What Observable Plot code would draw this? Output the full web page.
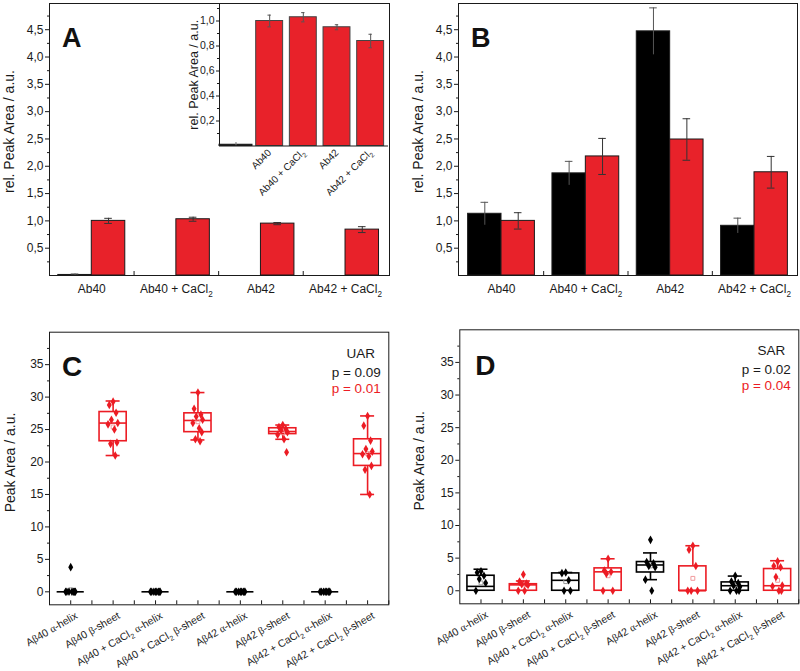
<!DOCTYPE html>
<html><head><meta charset="utf-8">
<script src="https://cdn.jsdelivr.net/npm/d3@7"></script>
<script src="https://cdn.jsdelivr.net/npm/@observablehq/plot@0.6"></script>
<style>
body{margin:0;background:#fff;}
#fig{position:relative;width:800px;height:671px;overflow:hidden;}
.panel{position:absolute;}
.panel svg{overflow:visible;display:block;}
</style></head><body><div id="fig"></div>
<script>
// ---------- data ----------
const groups = ["Ab40", "Ab40 + CaCl\u2082", "Ab42", "Ab42 + CaCl\u2082"];

// Panel A (main + inset)
const A_black = [0.01, 0, 0, 0];
const A_blackErr = [0.018, 0, 0, 0];
const A_red = [1.00, 1.03, 0.95, 0.84];
const A_redErr = [0.047, 0.037, 0.02, 0.054];

// Panel B
const B_black = [1.13, 1.87, 4.47, 0.91];
const B_blackErr = [0.21, 0.22, 0.43, 0.14];
const B_red = [1.00, 2.18, 2.49, 1.89];
const B_redErr = [0.15, 0.33, 0.38, 0.29];

// Panels C and D
const cats = ["A\u03b240 \u03b1-helix", "A\u03b240 \u03b2-sheet", "A\u03b240 + CaCl\u2082 \u03b1-helix", "A\u03b240 + CaCl\u2082 \u03b2-sheet",
              "A\u03b242 \u03b1-helix", "A\u03b242 \u03b2-sheet", "A\u03b242 + CaCl\u2082 \u03b1-helix", "A\u03b242 + CaCl\u2082 \u03b2-sheet"];
// [whisker low, Q1, median, Q3, whisker high]
const C_box = [
  [0, 0, 0, 0, 0],
  [21.0, 23.2, 26.0, 27.7, 29.4],
  [0, 0, 0, 0, 0],
  [23.4, 24.6, 26.4, 27.5, 30.7],
  [0, 0, 0, 0, 0],
  [23.5, 24.3, 24.7, 25.2, 25.7],
  [0, 0, 0, 0, 0],
  [15.0, 19.4, 21.3, 23.5, 27.1]
];
const C_points = [
  [3.8, 0, 0, 0, 0, 0, 0, 0],
  [29.3, 28.8, 27.6, 26.5, 26.0, 25.8, 25.0, 23.0, 22.8, 21.0],
  [0, 0, 0, 0, 0, 0, 0, 0],
  [30.7, 28.2, 27.3, 27.0, 26.5, 26.0, 25.2, 24.6, 23.5, 23.2],
  [0, 0, 0, 0, 0, 0, 0, 0],
  [25.7, 25.4, 25.1, 24.9, 24.6, 24.2, 23.5, 21.5],
  [0, 0, 0, 0, 0, 0, 0, 0],
  [27.1, 25.6, 23.3, 22.0, 21.6, 21.2, 20.9, 19.4, 18.8, 15.0]
];
const C_mean = [0.3, 25.4, 0, 26.2, 0, 24.5, 0, 21.3];

const D_box = [
  [0, 0, 0.67, 2.3, 3.3],
  [0, 0, 0.9, 1.0, 1.5],
  [0, 0, 1.6, 2.66, 2.8],
  [0, 0, 2.9, 3.43, 4.9],
  [1.7, 2.8, 3.95, 4.4, 5.8],
  [0, 0, 0, 3.74, 6.9],
  [0, 0, 0.77, 1.28, 2.25],
  [0, 0, 0.77, 3.33, 4.6]
];
const D_points = [
  [3.0, 2.8, 2.3, 1.8, 1.2, 0],
  [2.5, 1.4, 1.1, 1.0, 0.9, 0, 0],
  [2.8, 2.7, 1.6, 0, 0],
  [4.9, 3.1, 2.9, 2.6, 0, 0],
  [7.8, 4.4, 4.2, 3.8, 3.6, 1.7, 0],
  [6.9, 6.3, 3.8, 0, 0, 0],
  [2.3, 1.4, 1.2, 0.8, 0.6, 0, 0, 0],
  [4.5, 3.8, 3.6, 2.1, 0.8, 0.7, 0, 0]
];
const D_mean = [1.2, 0.9, 1.4, 2.3, 3.8, 1.9, 0.8, 1.6];

// ---------- styles ----------
const RED = "#ec1c24";
const BARRED = "#e8222a";
const INK = "#1a1a1a";
const FONT = '"Liberation Sans", Arial, Helvetica, sans-serif';
const SERIF = '"Liberation Serif", "Times New Roman", serif';
const fig = document.getElementById("fig");

// Render Greek letters in a serif face and "₂" as a real subscript
function richText(svg) {
  svg.querySelectorAll("text").forEach(t => {
    if (t.children.length) return;
    const s = t.textContent;
    if (!/[\u03b1\u03b2\u2082]/.test(s)) return;
    const fs = parseFloat(getComputedStyle(t).fontSize) || 12;
    t.textContent = "";
    const NS = "http://www.w3.org/2000/svg";
    let buf = "", lowered = false;
    const flush = () => {
      if (!buf) return;
      const sp = document.createElementNS(NS, "tspan");
      sp.textContent = buf;
      if (lowered) { sp.setAttribute("dy", (-0.3 * fs).toFixed(2)); lowered = false; }
      t.appendChild(sp);
      buf = "";
    };
    for (const ch of s) {
      if (ch === "\u03b1" || ch === "\u03b2") {
        flush();
        const sp = document.createElementNS(NS, "tspan");
        sp.textContent = ch;
        sp.setAttribute("font-family", SERIF);
        if (lowered) { sp.setAttribute("dy", (-0.3 * fs).toFixed(2)); lowered = false; }
        t.appendChild(sp);
      } else if (ch === "\u2082") {
        flush();
        const sp = document.createElementNS(NS, "tspan");
        sp.textContent = "2";
        sp.setAttribute("font-size", (0.68 * fs).toFixed(2));
        sp.setAttribute("dy", (0.3 * fs).toFixed(2));
        t.appendChild(sp);
        lowered = true;
      } else buf += ch;
    }
    flush();
  });
}
function place(el, left, top) {
  const d = document.createElement("div");
  d.className = "panel";
  d.style.left = left + "px";
  d.style.top = top + "px";
  d.appendChild(el);
  fig.appendChild(d);
  richText(el);
}
const comma = d => d.toFixed(1).replace(".", ",");

// ---------- bar panels A, B ----------
function barPanel({black, blackErr, red, redErr, letter, marginLeft, marginRight, xDomain}) {
  const H = 310, mt = 3, mb = 35, yMax = 4.98;
  const ppu = (H - mt - mb) / yMax;
  const hw = 0.396;
  const rows = groups.map((g, i) => ({i, black: black[i], be: blackErr[i], red: red[i], re: redErr[i]}));
  const blackRows = rows.filter(d => d.black > 0);
  const cap = 0.045;
  return Plot.plot({
    width: 400, height: H, marginLeft, marginRight, marginTop: mt, marginBottom: mb,
    style: {fontFamily: FONT, fontSize: "12px", color: INK, background: "transparent"},
    x: {domain: xDomain},
    y: {domain: [0, yMax]},
    marks: [
      Plot.rect(blackRows, {x1: d => d.i - hw, x2: d => d.i, y1: 0, y2: "black", fill: "#000", stroke: INK, strokeWidth: 1}),
      Plot.rect(rows, {x1: d => d.i, x2: d => d.i + hw, y1: 0, y2: "red", fill: BARRED, stroke: INK, strokeWidth: 1}),
      Plot.ruleX(blackRows, {x: d => d.i - hw / 2, y1: d => d.black - d.be, y2: d => d.black + d.be, stroke: "#555", strokeWidth: 1}),
      Plot.ruleY(blackRows, {y: d => d.black + d.be, x1: d => d.i - hw / 2 - cap, x2: d => d.i - hw / 2 + cap, stroke: "#555"}),
      Plot.ruleX(rows, {x: d => d.i + hw / 2, y1: d => d.red - d.re, y2: d => d.red + d.re, stroke: "#333", strokeWidth: 1}),
      Plot.ruleY(rows, {y: d => d.red + d.re, x1: d => d.i + hw / 2 - cap, x2: d => d.i + hw / 2 + cap, stroke: "#333"}),
      Plot.ruleY(rows, {y: d => d.red - d.re, x1: d => d.i + hw / 2 - cap, x2: d => d.i + hw / 2 + cap, stroke: "#333"}),
      Plot.frame({stroke: INK, strokeWidth: 1}),
      Plot.axisY({ticks: d3.range(0.5, 4.51, 0.5), tickFormat: comma, tickSize: 4, tickPadding: 2, label: null, fontSize: 12}),
      Plot.axisY({ticks: d3.range(0.25, 4.9, 0.5), tickSize: 2, tickFormat: () => "", label: null}),
      Plot.axisX({ticks: [0, 1, 2, 3], tickFormat: i => groups[i], tickSize: 0, tickPadding: 9, label: null, fontSize: 12}),
      Plot.ruleX([0.5, 1.5, 2.5], {y1: 0, y2: 4 / ppu, stroke: INK}),
      Plot.text([letter], {frameAnchor: "top-left", dx: 12.5, dy: 24.5, textAnchor: "start", fontSize: 27, fontWeight: "bold", fill: "#111"}),
      Plot.text(["rel. Peak Area / a.u."], {frameAnchor: "left", dx: -40, dy: -8, rotate: -90, textAnchor: "middle", fontSize: 14, fill: INK})
    ]
  });
}

place(barPanel({black: A_black, blackErr: A_blackErr, red: A_red, redErr: A_redErr, letter: "A",
  marginLeft: 49, marginRight: 11, xDomain: [-0.5, 3.52]}), 0, 0);

// inset of A
{
  const rows = A_red.map((v, i) => ({i: i + 1, v, e: A_redErr[i]}));
  const blk = [{i: 0, v: A_black[0], e: A_blackErr[0]}];
  const inset = Plot.plot({
    width: 240, height: 210, marginLeft: 59, marginRight: 12, marginTop: 3, marginBottom: 64.5,
    style: {fontFamily: FONT, fontSize: "10px", color: INK, background: "transparent"},
    x: {domain: [-0.49, 4.53]},
    y: {domain: [0, 1.14]},
    marks: [
      Plot.rect(blk, {x1: d => d.i - 0.49, x2: d => d.i + 0.49, y1: 0, y2: "v", fill: "#000", stroke: INK}),
      Plot.rect(rows, {x1: d => d.i - 0.4, x2: d => d.i + 0.4, y1: 0, y2: "v", fill: BARRED, stroke: "#444"}),
      Plot.ruleX(blk, {x: "i", y1: 0, y2: d => d.v + d.e, stroke: "#777"}),
      Plot.ruleX(rows, {x: "i", y1: d => d.v - d.e, y2: d => d.v + d.e, stroke: "#555"}),
      Plot.ruleY(rows, {y: d => d.v + d.e, x1: d => d.i - 0.05, x2: d => d.i + 0.05, stroke: "#555"}),
      Plot.ruleY(rows, {y: d => d.v - d.e, x1: d => d.i - 0.05, x2: d => d.i + 0.05, stroke: "#555"}),
      Plot.ruleX([-0.49], {stroke: INK}),
      Plot.ruleY([0], {stroke: INK}),
      Plot.axisY({ticks: d3.range(0.2, 1.01, 0.2), tickFormat: comma, tickSize: 3, tickPadding: 2, label: null, fontSize: 10.5}),
      Plot.axisY({ticks: d3.range(0.1, 1.12, 0.2), tickSize: 2, tickFormat: () => "", label: null}),
      Plot.axisX({ticks: [1, 2, 3, 4], tickFormat: i => groups[i - 1], tickRotate: -45, tickSize: 0, tickPadding: 5, label: null, fontSize: 10}),
      Plot.text(["rel. Peak Area / a.u."], {frameAnchor: "left", dx: -26, rotate: -90, textAnchor: "middle", fontSize: 12.5, fill: INK})
    ]
  });
  place(inset, 160, 0);
}

place(barPanel({black: B_black, blackErr: B_blackErr, red: B_red, redErr: B_redErr, letter: "B",
  marginLeft: 58, marginRight: 3, xDomain: [-0.51, 3.51]}), 400, 0);

// ---------- box panels C, D ----------
const jitter = [0, -0.09, 0.07, -0.04, 0.11, -0.12, 0.03, 0.09, -0.06, 0.05];
function boxPanel({box, points, means, letter, tag, pBlack, pRed, marginLeft, marginRight, marginTop, marginBottom, letterDx, letterDy, tagDx, labelDx}) {
  const H = 361, yDom = [-2, 40];
  const ppu = (H - marginTop - marginBottom) / (yDom[1] - yDom[0]);
  const color = i => (i % 2 === 0 ? "#000" : RED);
  const stats = box.map((b, i) => ({i, lo: b[0], q1: b[1], med: b[2], q3: b[3], hi: b[4], c: color(i)}));
  const pts = points.flatMap((arr, i) => arr.map((v, k) => ({x: i + jitter[k % jitter.length], v, c: color(i)})));
  const mns = means.map((v, i) => ({i, v, c: i % 2 === 0 ? "#999" : "#f19a9d"}));
  const bw = 0.32, cw = 0.165;
  return Plot.plot({
    width: 400, height: H, marginLeft, marginRight, marginTop, marginBottom,
    style: {fontFamily: FONT, fontSize: "12px", color: INK, background: "transparent"},
    x: {domain: [-0.5, 7.5]},
    y: {domain: yDom},
    color: {type: "identity"},
    marks: [
      Plot.ruleX(stats.filter(d => d.q1 > d.lo), {x: "i", y1: "lo", y2: "q1", stroke: "c", strokeWidth: 1.6}),
      Plot.ruleX(stats.filter(d => d.hi > d.q3), {x: "i", y1: "q3", y2: "hi", stroke: "c", strokeWidth: 1.6}),
      Plot.ruleY(stats.filter(d => d.hi > d.q3), {y: "hi", x1: d => d.i - cw, x2: d => d.i + cw, stroke: "c", strokeWidth: 1.6}),
      Plot.ruleY(stats.filter(d => d.q1 > d.lo), {y: "lo", x1: d => d.i - cw, x2: d => d.i + cw, stroke: "c", strokeWidth: 1.6}),
      Plot.rect(stats, {x1: d => d.i - bw, x2: d => d.i + bw, y1: "q1", y2: "q3", fill: "none", stroke: "c", strokeWidth: 1.6}),
      Plot.ruleY(stats, {y: "med", x1: d => d.i - bw, x2: d => d.i + bw, stroke: "c", strokeWidth: 1.6}),
      Plot.dot(mns, {x: "i", y: "v", symbol: "square", r: 2.2, stroke: "c", fill: "none", strokeWidth: 1}),
      Plot.dot(pts, {x: "x", y: "v", symbol: "diamond", r: 2.6, fill: "c", stroke: "none"}),
      Plot.frame({stroke: INK, strokeWidth: 1}),
      Plot.axisY({ticks: d3.range(0, 36, 5), tickSize: 4, tickPadding: 2, label: null, fontSize: 12}),
      Plot.axisY({ticks: d3.range(2.5, 40, 5), tickSize: 2, tickFormat: () => "", label: null}),
      Plot.axisX({ticks: d3.range(0, 8), tickFormat: i => cats[i], tickRotate: -30, tickSize: 0, tickPadding: 10, dx: 6, label: null, fontSize: 10.5}),
      Plot.ruleX(d3.range(0, 7.6, 0.5), {y1: yDom[0], y2: yDom[0] + 4 / ppu, stroke: INK}),
      Plot.text([letter], {frameAnchor: "top-left", dx: letterDx, dy: letterDy, textAnchor: "start", fontSize: 28, fontWeight: "bold", fill: "#111"}),
      Plot.text([tag], {frameAnchor: "top-right", dx: tagDx, dy: 16, textAnchor: "middle", fontSize: 13.5, fill: INK}),
      Plot.text([pBlack], {frameAnchor: "top-right", dx: -8, dy: 35, textAnchor: "end", fontSize: 13.5, fill: INK}),
      Plot.text([pRed], {frameAnchor: "top-right", dx: -8, dy: 51, textAnchor: "end", fontSize: 13.5, fill: RED}),
      Plot.text(["Peak Area / a.u."], {frameAnchor: "left", dx: labelDx, dy: -6, rotate: -90, textAnchor: "middle", fontSize: 14, fill: INK})
    ]
  });
}

place(boxPanel({box: C_box, points: C_points, means: C_mean, letter: "C", tag: "UAR", pBlack: "p = 0.09", pRed: "p = 0.01",
  marginLeft: 49, marginRight: 11.7, marginTop: 21.7, marginBottom: 66.7, letterDx: 12.5, letterDy: 23.5, tagDx: -28, labelDx: -39}), 0, 310);

place(boxPanel({box: D_box, points: D_points, means: D_mean, letter: "D", tag: "SAR", pBlack: "p = 0.02", pRed: "p = 0.04",
  marginLeft: 59.3, marginRight: 1.7, marginTop: 19.3, marginBottom: 67.7, letterDx: 15.5, letterDy: 25.5, tagDx: -27.5, labelDx: -40}), 400, 310);
</script>
</body></html>
